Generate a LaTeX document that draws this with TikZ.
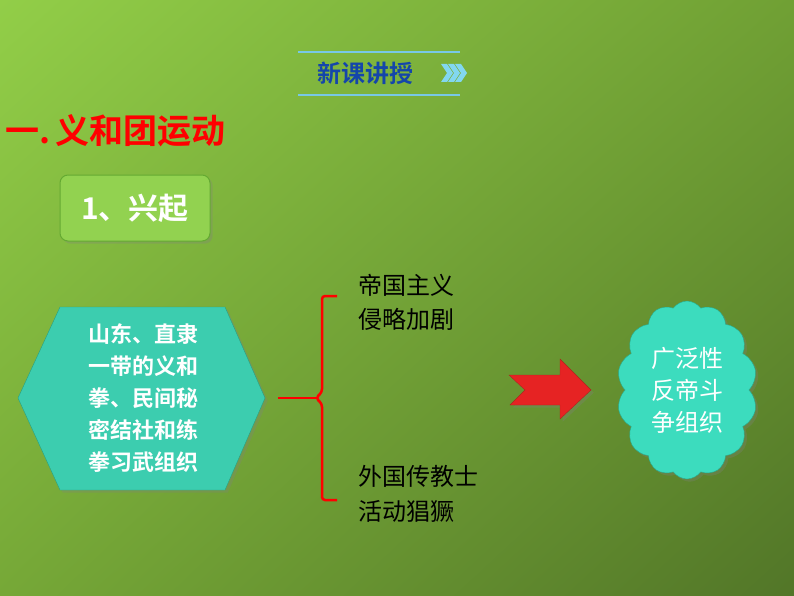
\documentclass[tikz,border=0pt]{standalone}
\usepackage{fontspec}
\setmainfont{Noto Sans CJK SC}
\newfontfamily\cjkb{Noto Sans CJK SC Bold}
\usetikzlibrary{shapes.symbols,shadows,shadings}
\definecolor{bgA}{RGB}{146,206,72}
\definecolor{bgB}{RGB}{112,160,52}
\definecolor{bgC}{RGB}{118,168,55}
\definecolor{bgD}{RGB}{82,118,40}
\tikzset{
 lbl/.style={anchor=west,inner sep=0pt,font=\fontsize{24}{24}\selectfont,text=black},
}
\begin{document}
\begin{tikzpicture}[x=1pt,y=-1pt]
\useasboundingbox (0,0) rectangle (794,596);
\shade[upper left=bgA,upper right=bgB,lower left=bgC,lower right=bgD] (0,0) rectangle (794,596);
% header
\draw[line width=1.5pt,color={rgb,255:red,120;green,200;blue,230}] (298,52) -- (460,52) (298,95) -- (460,95);
\node[inner sep=0pt,font=\cjkb\fontsize{24}{24}\selectfont,text={rgb,255:red,20;green,70;blue,170}] (hdr) at (365,73) {新课讲授};
\foreach \i in {0,1,2}{\fill[color={rgb,255:red,130;green,215;blue,240}] (441+\i*7,64) -- (447+\i*7,64) -- (453+\i*7,73) -- (447+\i*7,82) -- (441+\i*7,82) -- (447+\i*7,73) -- cycle;}
% title
\node[anchor=west,inner sep=0pt,font=\cjkb\fontsize{34}{34}\selectfont,text=red] (title) at (5,131) {一.\,义和团运动};
% sub box
\node[draw={rgb,255:red,100;green,170;blue,50},line width=1pt,fill={rgb,255:red,146;green,210;blue,80},rounded corners=8pt,minimum width=150pt,minimum height=66pt,font=\cjkb\fontsize{30}{30}\selectfont,text=white,drop shadow={opacity=0.3}] (sub) at (135,208) {1、兴起};
% hexagon
\filldraw[draw={rgb,255:red,40;green,160;blue,130},fill={rgb,255:red,60;green,205;blue,175},drop shadow={opacity=0.3}] (18,398) -- (60,307) -- (225,307) -- (265,398) -- (225,490) -- (60,490) -- cycle;
\node[inner sep=0pt,align=center,font=\cjkb\fontsize{22}{32}\selectfont,text=white] (hex) at (143,398) {山东、直隶\\一带的义和\\拳、民间秘\\密结社和练\\拳习武组织};
% brace
\coordinate (bs) at (278,398);
\draw[red,line width=2.5pt] (bs) -- (316,398);
\draw[red,line width=2.5pt,rounded corners=3pt] (337,296) -- (322,296) -- (322,392) -- (316,398) -- (322,404) -- (322,500) -- (337,500);
\node[lbl] (t1) at (358,285) {帝国主义};
\node[lbl] (t2) at (358,319) {侵略加剧};
\node[lbl] (t3) at (358,476) {外国传教士};
\node[lbl] (t4) at (358,511) {活动猖獗};
% arrow
\filldraw[fill={rgb,255:red,230;green,35;blue,35},draw={rgb,255:red,170;green,40;blue,30},drop shadow={opacity=0.3}] (509,375) -- (560,375) -- (560,359) -- (591,390) -- (560,419) -- (560,405) -- (510,405) -- (525,390) -- cycle;
% cloud
\node[cloud,cloud puffs=14,cloud puff arc=110,aspect=0.78,minimum width=140pt,minimum height=178pt,fill={rgb,255:red,60;green,220;blue,190},draw={rgb,255:red,40;green,170;blue,140},drop shadow={opacity=0.3},align=center,inner sep=0pt,font=\fontsize{24}{32}\selectfont,text=white] (cloud) at (687,390) {广泛性\\反帝斗\\争组织};
\end{tikzpicture}
\end{document}
